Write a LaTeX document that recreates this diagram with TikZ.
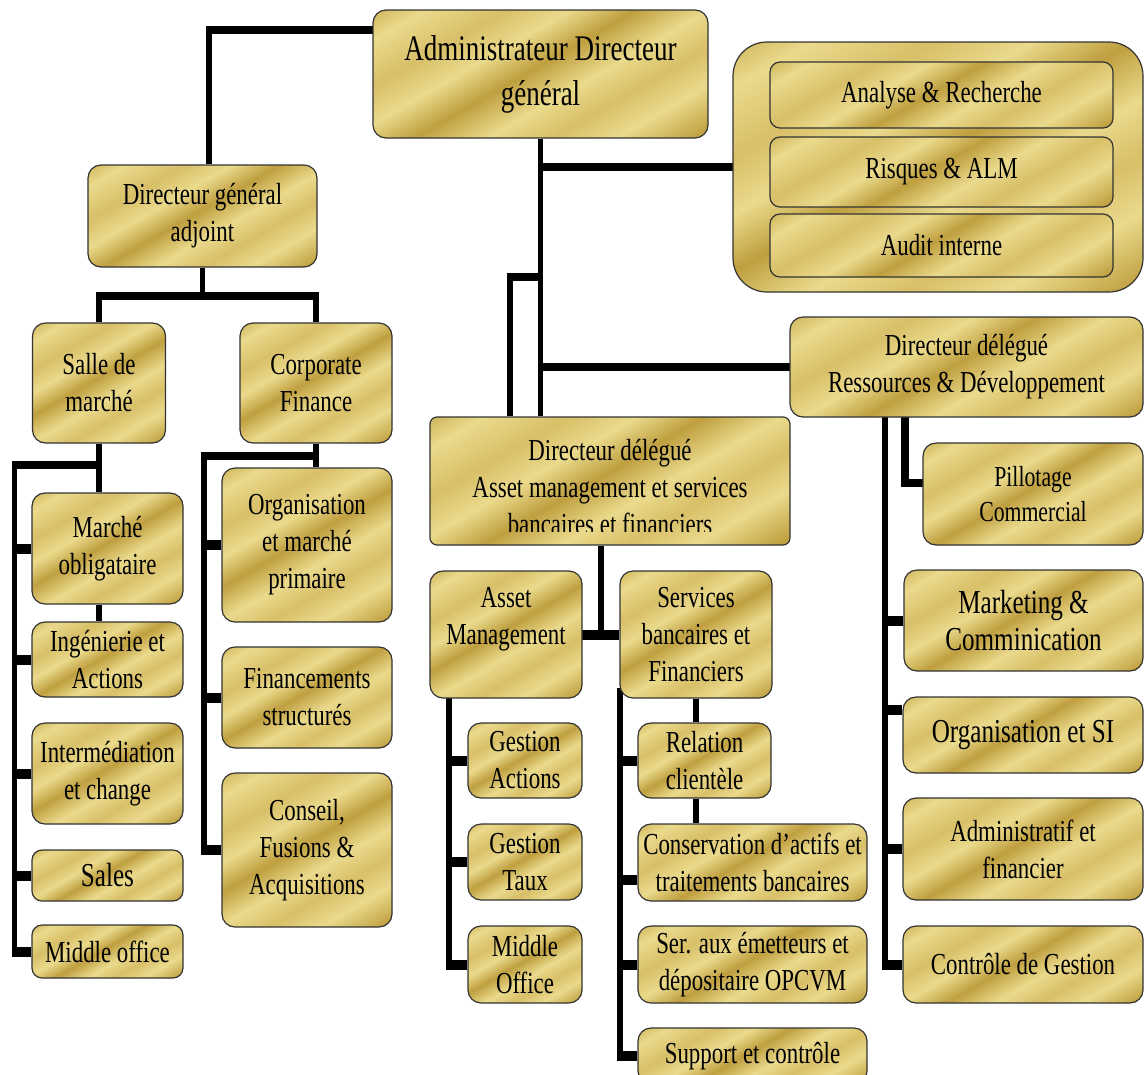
\documentclass[tikz,border=0pt]{standalone}
\usepackage{fontspec}
\setmainfont{Liberation Serif}[FakeStretch=0.75]
\usepackage{tikz}
\usetikzlibrary{calc, backgrounds}
\definecolor{goldL}{HTML}{EADA8C}
\definecolor{goldM}{HTML}{D8BF68}
\definecolor{goldD}{HTML}{BF9F3F}
\pgfdeclarehorizontalshading{goldleaf}{100bp}{color(0bp)=(goldL); color(12bp)=(goldD);
  color(22bp)=(goldL); color(32bp)=(goldM); color(40bp)=(goldL); color(48bp)=(goldD);
  color(57bp)=(goldL); color(65bp)=(goldM); color(73bp)=(goldL); color(83bp)=(goldD);
  color(92bp)=(goldL); color(100bp)=(goldM)}
\newcommand\fnorm{\fontsize{30.5}{37}\selectfont}
\newcommand\fbig{\fontsize{36}{45}\selectfont}
\newcommand\fmid{\fontsize{33.5}{37}\selectfont}

\begin{document}
\begin{tikzpicture}[x=1pt, y=-1pt,
  box/.style={draw=black!80, line width=1.2pt, rounded corners=13pt, shade,
              shading=goldleaf, shading angle=-60, align=center, inner sep=0pt,
              font=\fnorm},
  spine/.style={line width=5.5pt},
  bar/.style={line width=8pt, shorten <=-2.75pt, shorten >=-2.75pt},
  tick/.style={line width=10pt, shorten <=-2.75pt}
]
  \useasboundingbox (0,0) rectangle (1145,1074);

  % direction
  \node[box, minimum width=335pt, minimum height=128pt, font=\fbig] (adg) at (540.5,74) {Administrateur Directeur\\général};
  \node[box, rounded corners=34pt, minimum width=410pt, minimum height=250pt] (grp) at (938,167) {};
  \node[box, rounded corners=10pt, minimum width=343pt, minimum height=66pt] (ar) at (941.5,95) {Analyse \& Recherche};
  \node[box, rounded corners=10pt, minimum width=343pt, minimum height=70pt] (rim) at (941.5,172) {Risques \& ALM};
  \node[box, rounded corners=10pt, minimum width=343pt, minimum height=63pt] (aud) at (941.5,245.5) {Audit interne};
  \node[box, minimum width=229pt, minimum height=102pt] (dga) at (202.5,216) {Directeur général\\adjoint};

  % salle de marche / corporate finance
  \node[box, minimum width=133pt, minimum height=120pt] (sdm) at (99,383) {Salle de\\marché};
  \node[box, minimum width=152pt, minimum height=120pt] (cf) at (316,383) {Corporate\\Finance};
  \node[box, minimum width=151pt, minimum height=111pt] (mob) at (107.5,548.5) {Marché\\obligataire};
  \node[box, minimum width=151pt, minimum height=75pt] (ing) at (107.5,659.5) {Ingénierie et\\Actions};
  \node[box, minimum width=151pt, minimum height=101pt] (int) at (107.5,773.5) {Intermédiation\\et change};
  \node[box, rounded corners=10pt, minimum width=151pt, minimum height=51pt, font=\fmid] (sal) at (107.5,875.5) {Sales};
  \node[box, rounded corners=10pt, minimum width=151pt, minimum height=53pt] (mof) at (107.5,951.5) {Middle office};
  \node[box, minimum width=170pt, minimum height=154pt] (omp) at (307,545) {Organisation\\et marché\\primaire};
  \node[box, minimum width=170pt, minimum height=101pt] (fin) at (307,697.5) {Financements\\structurés};
  \node[box, minimum width=170pt, minimum height=154pt] (cfa) at (307,850) {Conseil,\\Fusions \&\\Acquisitions};

  % asset management et services
  \node[box, rounded corners=7pt, minimum width=360pt, minimum height=128pt] (dda) at (610,481) {};
  \begin{scope}
    \clip (dda.north west) rectangle ([yshift=14pt]dda.south east);
    \node[font=\fnorm, align=center] (ddaT) at (610,487) {Directeur délégué\\Asset management et services\\bancaires et financiers};
  \end{scope}
  \node[box, minimum width=152pt, minimum height=127pt] (am) at (506,634.5) {Asset\\Management\\\mbox{}};
  \node[box, minimum width=152pt, minimum height=127pt] (sbf) at (696,634.5) {Services\\bancaires et\\Financiers};
  \node[box, minimum width=114pt, minimum height=75pt] (ga) at (525,760.5) {Gestion\\Actions};
  \node[box, minimum width=114pt, minimum height=76pt] (gt) at (525,862) {Gestion\\Taux};
  \node[box, minimum width=114pt, minimum height=77pt] (mo2) at (525,964.5) {Middle\\Office};
  \node[box, minimum width=133pt, minimum height=75pt] (rc) at (704.5,760.5) {Relation\\clientèle};
  \node[box, minimum width=229pt, minimum height=77pt] (cat) at (752.5,862.5) {Conservation d'actifs et\\traitements bancaires};
  \node[box, minimum width=229pt, minimum height=77pt] (ser) at (752.5,964.5) {Ser. aux émetteurs et\\dépositaire OPCVM};
  \node[box, minimum width=229pt, minimum height=56pt] (sc) at (752.5,1056) {Support et contrôle};

  % ressources et developpement
  \node[box, minimum width=353pt, minimum height=100pt] (ddr) at (966.5,367) {Directeur délégué\\Ressources \& Développement};
  \node[box, minimum width=220pt, minimum height=102pt, font=\fontsize{29}{35}\selectfont] (pc) at (1033,494) {Pillotage\\Commercial};
  \node[box, minimum width=239pt, minimum height=101pt, font=\fmid] (mkt) at (1023.5,620.5) {Marketing \&\\Comminication};
  \node[box, minimum width=240pt, minimum height=76pt, font=\fmid] (osi) at (1023,735) {Organisation et SI};
  \node[box, minimum width=240pt, minimum height=102pt] (adm) at (1023,849) {Administratif et\\financier};
  \node[box, minimum width=240pt, minimum height=77pt] (cdg) at (1023,964.5) {Contrôle de Gestion};

  \begin{scope}[on background layer]
    % liens de la direction
    \coordinate (jA) at (209,30);
    \draw[spine] (jA) -- (jA |- dga.north);
    \draw[bar] (jA) -- (jA -| adg.west);
    \draw[spine] (adg.south) -- (adg.south |- dda.north);
    \draw[bar] (adg.south |- grp.west) -- (grp.west);
    \draw[bar] (adg.south |- ddr.west) -- (ddr.west);
    \coordinate (jB) at (510,277);
    \draw[bar] (jB) -- (jB -| adg.south);
    \draw[spine] (jB) -- (jB |- dda.north);

    % adjoint
    \coordinate (jC) at (202.5,296);
    \draw[spine] (dga.south) -- (jC);
    \draw[bar] (jC -| sdm.north) -- (jC -| cf.north);
    \draw[spine] (jC -| sdm.north) -- (sdm.north);
    \draw[spine] (jC -| cf.north) -- (cf.north);

    % salle de marche
    \coordinate (jD) at (14.5,465);
    \draw[spine] (sdm.south) -- (sdm.south |- mob.north);
    \draw[spine] (sdm.south |- mob.south) -- (sdm.south |- ing.north);
    \draw[bar] (jD) -- (jD -| sdm.south);
    \draw[spine, shorten >=-5pt] (jD) -- (jD |- mof.west);
    \foreach \n in {mob,ing,int,sal,mof}
      \draw[tick] (jD |- \n.west) -- (\n.west);

    % corporate finance
    \coordinate (jE) at (204,456);
    \draw[spine] (cf.south) -- (cf.south |- omp.north);
    \draw[bar] (jE) -- (jE -| cf.south);
    \draw[spine, shorten >=-5pt] (jE) -- (jE |- cfa.west);
    \foreach \n in {omp,fin,cfa}
      \draw[tick] (jE |- \n.west) -- (\n.west);

    % asset management et services
    \coordinate (jF) at (601,635);
    \draw[spine] (jF |- dda.south) -- (jF);
    \draw[tick] (am.east) -- (sbf.west);
    \coordinate (jG) at (449,698);
    \draw[spine, shorten >=-5pt] (jG) -- (jG |- mo2.west);
    \foreach \n in {ga,gt,mo2}
      \draw[tick] (jG |- \n.west) -- (\n.west);
    \coordinate (jH) at (620,688);
    \coordinate (tC) at ([yshift=-17pt]cat.west);
    \draw[spine, shorten >=-5pt] (jH) -- (jH |- sc.west);
    \foreach \n in {rc,ser,sc}
      \draw[tick] (jH |- \n.west) -- (\n.west);
    \draw[tick] (jH |- tC) -- (tC);
    \draw[spine] (sbf.south) -- (sbf.south |- rc.north);
    \draw[spine] (rc.south -| sbf.south) -- (cat.north -| sbf.south);

    % ressources et developpement
    \coordinate (jI) at (885,417);
    \coordinate (tO) at ([yshift=25pt]osi.west);
    \draw[spine, shorten >=-5pt] (jI) -- (jI |- cdg.west);
    \foreach \n in {mkt,adm,cdg}
      \draw[tick] (jI |- \n.west) -- (\n.west);
    \draw[tick] (jI |- tO) -- (tO);
    \coordinate (jJ) at (905,417);
    \coordinate (tP) at ([yshift=11pt]pc.west);
    \draw[bar] (jJ) -- (jJ |- tP) -- (tP);
  \end{scope}
\end{tikzpicture}
\end{document}
